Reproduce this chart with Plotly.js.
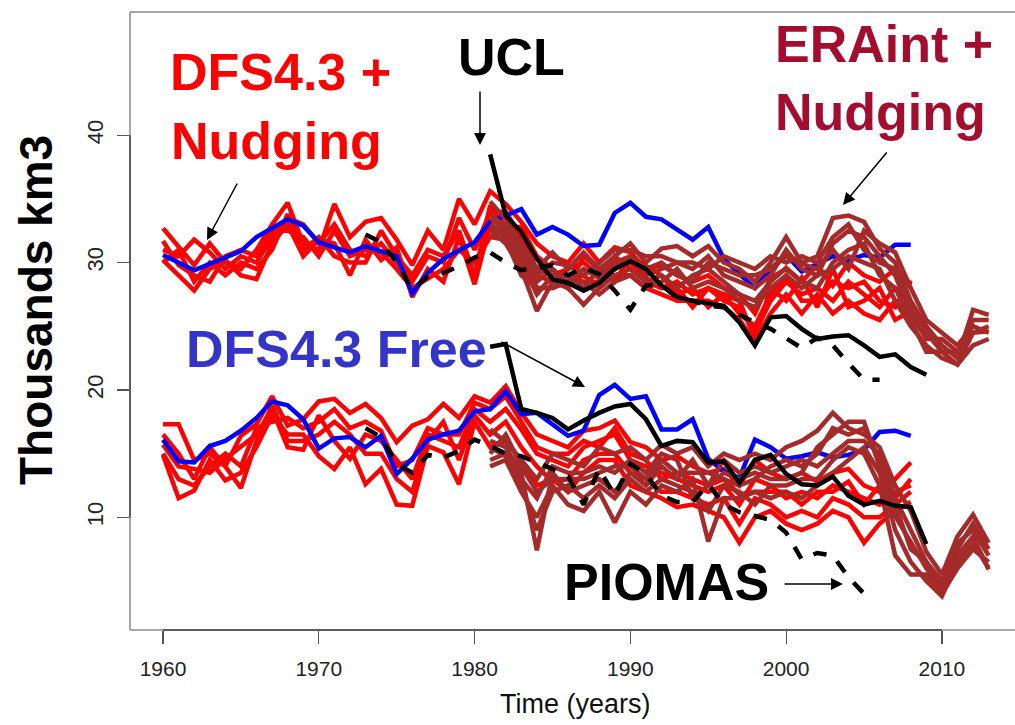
<!DOCTYPE html>
<html>
<head>
<meta charset="utf-8">
<script src="https://cdn.plot.ly/plotly-3.0.1.min.js"></script>
<style>html,body{margin:0;padding:0;background:#fff;}#chart{width:1015px;height:725px;}</style>
</head>
<body>
<div id="chart"></div>
<script>
// ---------------- DATA ----------------
const yearsDFS = [1960,1961,1962,1963,1964,1965,1966,1967,1968,1969,1970,1971,1972,1973,1974,1975,1976,1977,1978,1979,1980,1981,1982,1983,1984,1985,1986,1987,1988,1989,1990,1991,1992,1993,1994,1995,1996,1997,1998,1999,2000,2001,2002,2003,2004,2005,2006,2007,2008];
const yearsERA = [1981,1982,1983,1984,1985,1986,1987,1988,1989,1990,1991,1992,1993,1994,1995,1996,1997,1998,1999,2000,2001,2002,2003,2004,2005,2006,2007,2008,2009,2010,2011,2012,2013];
const yearsUCL = [1981,1982,1983,1984,1985,1986,1987,1988,1989,1990,1991,1992,1993,1994,1995,1996,1997,1998,1999,2000,2001,2002,2003,2004,2005,2006,2007,2008,2009];
const yearsPIOup = [1973,1974,1975,1976,1977,1978,1979,1980,1981,1982,1983,1984,1985,1986,1987,1988,1989,1990,1991,1992,1993,1994,1995,1996,1997,1998,1999,2000,2001,2002,2003,2004,2005,2006];
const yearsPIOlow = [1973,1974,1975,1976,1977,1978,1979,1980,1981,1982,1983,1984,1985,1986,1987,1988,1989,1990,1991,1992,1993,1994,1995,1996,1997,1998,1999,2000,2001,2002,2003,2004,2005];

// DFS4.3 Free (blue)
const freeUpper = [30.6,30.0,29.4,29.9,30.4,30.9,32.0,32.7,33.4,32.9,31.6,31.2,30.8,31.3,30.9,30.5,27.6,29.2,30.3,31.0,31.6,33.2,33.7,34.2,32.2,32.8,32.2,31.3,31.4,33.9,34.7,33.6,33.4,32.6,31.8,32.8,30.3,29.1,28.0,29.5,30.6,29.3,29.9,30.5,30.2,30.6,30.4,31.4,31.4];
const freeLower = [16.1,14.4,14.3,15.6,16.0,16.8,17.8,19.1,18.8,17.7,15.4,16.2,16.3,15.5,16.4,13.4,14.6,16.1,16.5,16.8,18.3,18.5,19.9,18.1,18.2,17.3,16.4,16.8,19.6,20.4,19.3,19.5,16.9,16.9,17.7,14.6,13.6,13.1,16.1,15.5,14.6,14.8,15.1,14.7,14.9,15.3,16.7,16.8,16.4];

// DFS4.3 + Nudging (red), upper members
const nudgeUp1 = [32.7,31.3,29.8,31.5,30.0,29.5,31.0,33.0,34.7,31.5,31.0,34.6,32.0,33.2,33.5,31.8,29.8,32.5,31.0,35.0,33.0,35.6,34.6,33.2,31.5,30.5,30.0,31.5,30.0,31.2,30.8,29.5,29.8,29.0,28.5,29.0,28.0,27.5,26.0,28.8,29.5,28.5,29.8,28.2,30.0,29.0,28.5,29.5,28.2];
const nudgeUp2 = [31.0,30.5,31.8,30.8,29.5,30.5,30.0,32.0,33.5,33.0,31.5,33.0,31.0,30.5,31.5,30.0,28.5,30.5,30.0,33.5,31.0,34.0,34.0,32.0,29.5,29.0,29.5,30.0,29.0,29.8,30.0,28.8,28.0,28.5,27.5,28.0,27.0,26.5,24.5,27.0,28.5,27.5,28.0,27.0,28.5,27.5,26.5,28.0,27.0];
const nudgeUp3 = [30.2,29.0,27.8,29.5,30.2,29.0,28.7,31.5,33.0,30.5,31.8,31.5,29.0,31.8,30.2,31.2,27.3,29.5,28.5,32.0,28.3,33.0,32.0,30.5,28.0,28.0,28.5,29.0,28.0,29.0,29.0,28.0,27.5,27.0,27.0,27.0,26.5,25.5,23.8,26.0,27.5,26.0,27.5,26.0,27.0,26.0,25.5,27.0,25.6];
const nudgeUp4 = [31.7,29.8,29.0,28.5,30.5,31.0,30.5,32.5,32.5,32.0,30.5,32.5,30.5,31.0,30.8,29.5,28.0,28.8,29.5,31.0,30.0,32.0,33.0,31.5,29.0,28.5,29.0,28.5,28.5,30.5,29.5,28.5,28.0,28.0,26.5,28.0,27.5,26.0,25.0,27.5,29.0,27.0,27.0,28.5,28.0,28.5,27.0,26.5,28.6];
const nudgeUp5 = [30.0,31.0,28.5,30.0,29.0,30.0,29.5,31.0,33.8,31.0,32.0,30.5,30.0,30.0,32.5,30.5,29.0,31.0,30.5,32.5,29.0,34.5,32.8,32.8,30.5,29.5,28.0,30.5,29.5,28.5,30.5,29.8,29.0,27.5,28.0,26.5,27.5,27.0,24.0,28.0,27.0,28.8,26.5,29.5,26.5,27.0,28.0,25.5,26.2];
// DFS4.3 + Nudging (red), lower members
const nudgeLow1 = [17.3,17.3,14.5,15.0,14.0,16.4,17.3,19.5,17.2,17.7,19.1,19.3,18.2,18.9,17.8,15.9,17.2,17.7,18.9,17.8,19.5,19.0,20.3,18.2,16.5,16.0,15.5,16.8,17.0,17.6,15.9,15.5,14.5,14.8,14.0,13.5,13.8,12.5,14.5,13.5,13.0,13.5,12.8,13.5,13.8,12.5,12.0,13.0,14.3];
const nudgeLow2 = [15.7,14.0,13.8,13.5,14.6,15.5,16.5,18.5,15.5,15.3,18.0,16.0,14.6,16.5,16.0,14.5,13.0,16.5,16.0,15.5,18.5,17.5,18.5,16.9,15.0,14.5,14.0,15.5,16.0,16.5,14.5,14.0,13.5,13.0,12.5,12.0,12.5,11.0,13.0,12.5,11.5,12.0,11.5,12.5,12.0,11.5,11.0,12.0,12.5];
const nudgeLow3 = [14.9,11.5,12.1,14.5,12.9,13.5,15.5,18.0,16.5,16.5,14.8,13.8,15.5,12.6,13.8,11.0,10.9,15.6,15.1,12.6,17.5,15.5,16.0,14.5,12.5,13.0,12.0,13.5,14.5,14.5,12.5,12.0,11.5,10.8,11.0,10.5,10.0,8.0,10.0,10.5,9.5,9.0,9.5,10.5,10.0,8.0,9.5,10.5,11.2];
const nudgeLow4 = [16.5,15.0,13.0,15.5,14.0,12.3,16.0,18.8,16.0,16.0,16.5,17.5,16.5,15.0,15.0,13.0,12.0,16.0,17.5,14.5,18.0,16.5,17.5,15.5,14.0,12.8,13.0,14.5,15.0,15.0,13.5,13.0,12.0,12.0,11.5,11.0,11.5,9.5,11.5,11.0,10.0,10.5,10.0,11.5,11.0,10.0,10.0,11.0,12.0];
const nudgeLow5 = [15.0,13.0,12.5,14.0,15.0,14.0,17.0,17.5,17.8,17.0,17.5,18.5,17.0,17.5,16.8,14.0,14.5,17.0,16.5,16.5,19.0,18.5,19.5,17.5,15.5,15.0,15.0,16.0,15.5,17.0,15.0,14.5,13.0,13.5,13.0,12.5,13.0,11.8,12.0,12.0,12.0,11.0,12.0,12.0,12.8,11.0,12.5,11.5,13.0];

// ERAint + Nudging (brown), upper members
const eraUp1 = [34.8,33.4,31.5,29.5,30.8,29.5,30.8,29.5,30.5,31.5,30.0,31.1,31.3,30.5,31.3,30.0,29.5,28.5,30.0,32.0,30.0,30.5,33.5,33.7,33.2,31.1,30.0,27.0,25.0,23.5,22.5,26.3,25.9];
const eraUp2 = [33.5,32.4,30.5,28.5,29.5,28.5,29.5,28.8,30.0,30.5,29.0,29.5,30.0,29.5,30.5,29.0,28.5,28.0,29.0,31.0,29.5,29.0,31.5,32.5,32.0,30.5,29.0,26.0,24.0,24.0,23.0,24.5,24.6];
const eraUp3 = [32.6,31.5,29.5,26.2,28.5,28.0,26.7,28.0,29.0,29.5,28.5,29.0,28.0,29.0,29.5,28.5,27.5,27.0,28.5,29.6,28.5,28.0,30.0,31.0,31.5,29.0,28.0,25.5,23.0,23.0,22.0,23.5,24.0];
const eraUp4 = [33.0,32.0,30.0,27.5,29.0,29.0,28.0,29.5,29.5,30.5,29.5,30.0,29.0,28.5,30.0,29.5,29.0,29.0,29.5,30.5,29.9,29.5,31.0,29.5,32.5,31.5,30.8,28.0,25.5,24.5,23.5,25.0,24.5];
const eraUp5 = [32.0,31.8,29.0,28.0,28.0,28.5,28.5,27.5,28.5,29.0,28.0,28.5,29.5,28.0,28.5,28.0,27.0,26.5,28.0,29.0,28.0,29.0,29.5,30.5,30.0,29.5,27.0,25.0,23.5,22.5,22.0,24.5,25.0];
const eraUp6 = [33.8,32.8,31.0,29.0,30.0,29.8,29.0,30.0,31.0,31.0,30.5,30.5,30.0,30.0,29.5,30.5,30.0,29.5,30.5,30.0,30.5,30.0,32.0,33.0,31.0,30.0,29.5,26.5,24.5,23.0,23.0,25.5,25.5];
// ERAint + Nudging (brown), lower members
const eraLow1 = [16.9,15.9,14.5,13.0,15.0,14.5,14.0,15.5,15.0,15.5,14.5,15.7,15.0,15.5,14.0,15.0,14.5,15.0,14.5,15.5,16.0,16.8,18.2,17.0,16.5,15.5,12.5,10.5,7.3,5.5,8.5,10.2,8.0];
const eraLow2 = [16.0,15.5,13.5,7.4,13.5,12.0,12.5,13.0,12.0,13.5,12.5,14.0,13.0,14.5,12.5,13.5,13.0,13.5,13.0,13.0,13.5,15.5,16.5,17.5,17.5,14.0,10.1,8.0,6.0,4.5,7.5,9.5,7.5];
const eraLow3 = [14.0,14.5,12.0,10.0,12.5,11.0,10.5,12.0,9.6,12.0,11.0,12.5,12.0,13.0,8.1,11.5,11.5,12.0,11.5,12.0,11.5,12.5,13.5,14.5,15.5,13.5,9.0,6.5,5.0,3.8,6.5,8.0,6.0];
const eraLow4 = [15.5,14.8,13.0,11.5,14.0,13.5,13.5,14.0,13.5,14.5,13.5,15.0,14.5,11.5,12.5,14.5,13.5,14.0,13.5,14.0,14.5,14.0,15.0,16.0,16.0,15.0,11.5,9.0,6.5,4.0,6.0,7.5,6.5];
const eraLow5 = [14.5,15.0,12.5,9.0,12.0,12.5,11.5,12.5,11.5,13.0,12.0,13.0,12.5,12.0,10.5,12.5,12.0,11.0,12.5,12.5,13.0,13.0,14.5,15.5,15.0,12.5,7.0,5.5,5.5,4.2,7.0,8.5,5.9];
const eraLow6 = [15.0,16.5,14.0,12.0,13.0,13.0,13.0,13.5,14.0,14.0,13.0,14.5,13.5,13.5,13.5,13.0,12.5,13.0,14.0,14.5,14.0,15.0,17.0,16.5,17.0,14.5,11.0,7.5,6.5,5.0,8.0,9.0,7.0];

// UCL (black solid)
const uclUpper = [38.5,33.7,32.4,30.3,28.7,28.4,27.8,28.4,29.5,30.1,29.5,28.2,27.3,27.0,26.8,26.6,25.3,23.5,25.7,25.8,24.8,24.0,24.2,24.3,23.5,22.6,22.8,21.8,21.2];
const uclLower = [23.4,23.6,18.5,18.2,17.8,16.9,17.6,18.2,18.7,18.9,17.7,15.6,16.0,15.9,14.3,14.4,12.7,14.5,14.9,13.4,12.6,12.5,13.2,11.7,11.0,11.3,10.9,10.8,7.9];

// PIOMAS (black dashed)
const pioUpper = [32.2,31.6,30.0,27.9,28.9,29.2,29.7,30.4,30.8,30.0,29.4,29.6,29.8,29.0,29.6,29.1,27.8,26.3,28.2,28.3,27.2,27.0,26.6,26.5,25.9,25.3,24.8,24.0,23.3,24.1,23.5,22.1,20.8,20.8];
const pioLower = [17.0,16.3,14.2,13.5,14.9,14.7,15.2,16.1,15.6,15.0,14.8,14.3,13.8,13.2,11.0,13.8,11.7,14.2,13.4,11.7,11.2,11.2,12.6,11.0,10.4,10.1,9.8,8.8,6.7,7.2,7.0,5.3,4.0];

const xTicks = [1960,1970,1980,1990,2000,2010];
const yTicks = [10,20,30,40];

// ---------------- LAYOUT HELPERS ----------------
const W = 1015, H = 725, L = 130, R = 0, T = 12, B = 95;
const PW = W - L - R, PH = H - T - B;
const px2x = p => (p - L) / PW;
const py2y = p => (H - B - p) / PH;

const RED = '#FF0000', BLUE = '#0000FF', BROWN = '#A52A2A', BLACK = '#000000';
const LW = 4.5;

const traces = [];
function addLine(x, y, color, dash) {
  traces.push({x: x, y: y, type: 'scatter', mode: 'lines', hoverinfo: 'skip', showlegend: false,
    line: {color: color, width: LW, dash: dash || 'solid', shape: 'linear'}});
}
[nudgeUp1, nudgeUp2, nudgeUp3, nudgeUp4, nudgeUp5, nudgeLow1, nudgeLow2, nudgeLow3, nudgeLow4, nudgeLow5]
  .forEach(s => addLine(yearsDFS, s, RED));
addLine(yearsDFS, freeUpper, BLUE);
addLine(yearsDFS, freeLower, BLUE);
[eraUp1, eraUp2, eraUp3, eraUp4, eraUp5, eraUp6, eraLow1, eraLow2, eraLow3, eraLow4, eraLow5, eraLow6]
  .forEach(s => addLine(yearsERA, s, BROWN));
addLine(yearsPIOup, pioUpper, BLACK, 'dash');
addLine(yearsPIOlow, pioLower, BLACK, 'dash');
addLine(yearsUCL, uclUpper, BLACK);
addLine(yearsUCL, uclLower, BLACK);

const FONT = '"Liberation Sans", Arial, Helvetica, sans-serif';
const BIG = 52;
function label(text, cx, cy, color, size, angle) {
  return {text: text, xref: 'paper', yref: 'paper', x: px2x(cx), y: py2y(cy),
    xanchor: 'center', yanchor: 'middle', showarrow: false, textangle: angle || 0,
    font: {family: FONT, size: size, color: color}};
}
function arrow(tx, ty, hx, hy) {
  return {text: '', xref: 'paper', yref: 'paper', x: px2x(hx), y: py2y(hy),
    axref: 'pixel', ayref: 'pixel', ax: tx - hx, ay: ty - hy,
    showarrow: true, arrowhead: 2, arrowsize: 1.6, arrowwidth: 1.5, arrowcolor: '#000', standoff: 0};
}

const annotations = [
  label('<b>DFS4.3 +</b>', 280, 72, RED, BIG),
  label('<b>Nudging</b>', 276, 141, RED, BIG),
  label('<b>UCL</b>', 511, 57, BLACK, BIG),
  label('<b>ERAint +</b>', 884, 44, '#A30D2E', BIG),
  label('<b>Nudging</b>', 880, 112, '#A30D2E', BIG),
  label('<b>DFS4.3 Free</b>', 336, 349, '#3434C8', BIG),
  label('<b>PIOMAS</b>', 666, 582, BLACK, BIG),
  label('<b>Thousands km3</b>', 36, 310, BLACK, 46, -90),
  label('Time (years)', 575, 704, '#111', 27),
  arrow(238, 182, 207, 240),
  arrow(480, 90, 480, 145),
  arrow(888, 151, 843, 205),
  arrow(500, 341, 585, 387),
  arrow(783, 584, 843, 584)
];

const shapes = [
  // frame (gray box, right edge out of view)
  {type: 'line', xref: 'paper', yref: 'paper', x0: 0, x1: 0, y0: 0, y1: 1, line: {color: '#8a8a8a', width: 1.5}},
  {type: 'line', xref: 'paper', yref: 'paper', x0: 0, x1: 1.01, y0: 1, y1: 1, line: {color: '#8a8a8a', width: 1.5}},
  {type: 'line', xref: 'paper', yref: 'paper', x0: 0, x1: 1.01, y0: 0, y1: 0, line: {color: '#8a8a8a', width: 1.5}},
  // axis lines spanning the tick range
  {type: 'line', xref: 'x', yref: 'paper', x0: xTicks[0], x1: xTicks[xTicks.length - 1], y0: 0, y1: 0, line: {color: '#444', width: 1.5}},
  {type: 'line', xref: 'paper', yref: 'y', x0: 0, x1: 0, y0: yTicks[0], y1: yTicks[yTicks.length - 1], line: {color: '#444', width: 1.5}}
];

const layout = {
  width: W, height: H,
  margin: {l: L, r: R, t: T, b: B, pad: 0},
  paper_bgcolor: '#fff', plot_bgcolor: '#fff',
  showlegend: false,
  xaxis: {range: [1960 - 33 / 15.578, 1960 + (W - 163) / 15.578], tickvals: xTicks, ticktext: xTicks.map(String),
    ticks: 'outside', ticklen: 13, tickwidth: 1.2, tickcolor: '#555', showgrid: false, zeroline: false,
    showline: false, tickfont: {family: FONT, size: 21, color: '#222'}, ticklabelstandoff: 7, fixedrange: true},
  yaxis: {range: [1.15, 49.68], tickvals: yTicks, ticktext: yTicks.map(String),
    ticks: 'outside', ticklen: 12, tickwidth: 1.2, tickcolor: '#555', showgrid: false, zeroline: false,
    showline: false, tickangle: -90, tickfont: {family: FONT, size: 22, color: '#222'}, ticklabelstandoff: 5, fixedrange: true},
  annotations: annotations,
  shapes: shapes
};

Plotly.newPlot('chart', traces, layout, {staticPlot: true, displayModeBar: false});
</script>
</body>
</html>
